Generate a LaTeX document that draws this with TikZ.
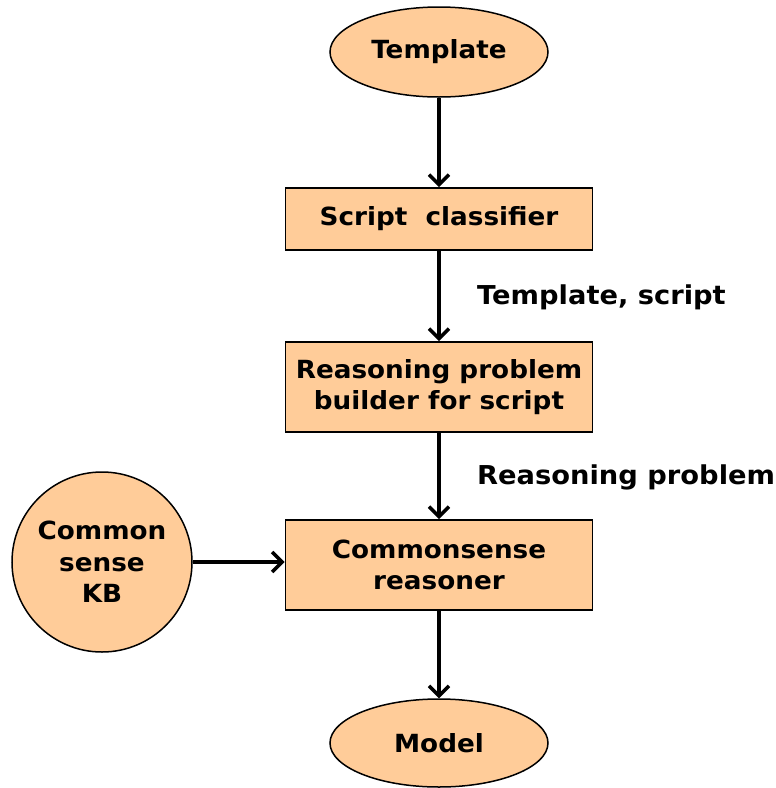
\documentclass[tikz,border=0pt]{standalone}
\usepackage{fontspec}
\setmainfont{DejaVu Sans}[FakeStretch=1.05]
\usetikzlibrary{shapes.geometric,arrows.meta}
\definecolor{fillc}{RGB}{255,204,153}
\begin{document}
\begin{tikzpicture}[x=1pt,y=-1pt,
  every node/.style={font=\bfseries\fontsize{25}{31.5}\selectfont},
  boxnode/.style={draw,line width=1.8pt,fill=fillc,minimum width=307pt,minimum height=62pt,inner sep=0pt,align=center},
  ellnode/.style={draw,line width=1.5pt,fill=fillc,ellipse,minimum width=218pt,minimum height=90pt,inner sep=0pt},
  circnode/.style={draw,line width=1.5pt,fill=fillc,circle,minimum size=180pt,inner sep=0pt,align=center},
  lbl/.style={anchor=west,inner sep=0pt,font=\bfseries\fontsize{26}{31.5}\selectfont},
  arr/.style={-{Straight Barb[length=10pt,width=20pt,line width=3.5pt]},line width=3.5pt}]
\useasboundingbox (0,0) rectangle (776,788);
\node[ellnode] (tmpl) at (439,52) {Template};
\node[boxnode] (cls) at (439,219) {Script\ \ classifier};
\node[boxnode,minimum height=90pt] (bld) at (439,387) {Reasoning problem\\builder for script};
\node[boxnode,minimum height=90pt] (rsn) at (439,565) {Commonsense\\reasoner};
\node[circnode] (kb) at (102,562) {Common\\sense\\KB};
\node[ellnode,minimum height=88pt] (mdl) at (439,743) {Model};
\node[lbl] (l1) at (477,297) {Template, script};
\node[lbl] (l2) at (477,477) {Reasoning problem};
\draw[arr] (tmpl) -- (cls);
\draw[arr] (cls) -- (bld);
\draw[arr] (bld) -- (rsn);
\draw[arr] (rsn) -- (mdl);
\draw[arr] (kb.east) -- (rsn.west |- kb.east);
\end{tikzpicture}
\end{document}
